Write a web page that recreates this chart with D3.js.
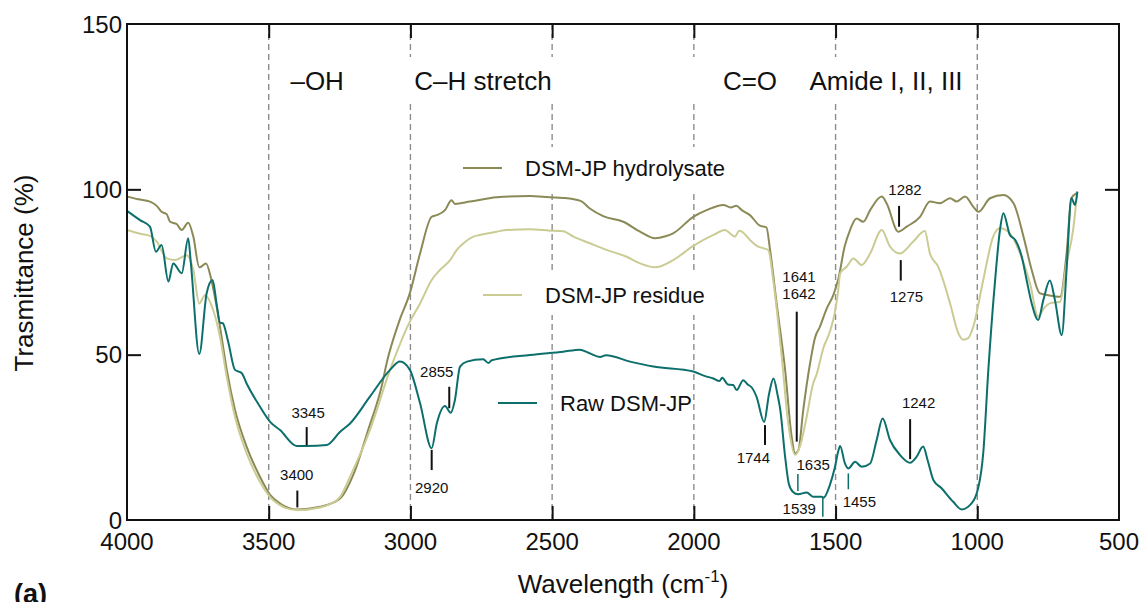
<!DOCTYPE html>
<html>
<head>
<meta charset="utf-8">
<script src="https://cdn.jsdelivr.net/npm/d3@7/dist/d3.min.js"></script>
<style>
  html, body { margin: 0; padding: 0; background: #fff; }
  svg { display: block; }
  text { font-family: "Liberation Sans", Arial, Helvetica, sans-serif; fill: #111; }
</style>
</head>
<body>
<svg id="chart" width="1143" height="602"></svg>
<script>
// ---------------- DATA ----------------
const xTicks = [4000, 3500, 3000, 2500, 2000, 1500, 1000, 500];
const yTicks = [0, 50, 100, 150];
const gridLines = [3500, 3000, 2500, 2000, 1500, 1000];

const seriesNames = ["DSM-JP hydrolysate", "DSM-JP residue", "Raw DSM-JP"];

const hydroWn = [4000,3960,3919,3895,3878,3860,3848,3825,3807,3784,3766,3745,3721,3705,3690,3672,3648,3619,3578,3531,3495,3460,3401,3319,3248,3200,3150,3100,3084,3040,3002,2966,2925,2907,2878,2855,2843,2790,2696,2578,2508,2461,2400,2367,2320,2249,2190,2137,2100,2073,2002,1955,1896,1870,1850,1831,1802,1767,1744,1731,1708,1678,1655,1643,1631,1614,1590,1573,1555,1531,1508,1490,1468,1449,1426,1402,1378,1337,1320,1279,1249,1202,1167,1132,1096,1073,1043,1014,996,955,908,872,837,808,780,750,708,685,668,651];
const hydroT  = [97.8,97.0,96.3,95.0,93.2,92.5,90.2,89.5,87.7,89.9,85.7,76.4,77.6,73.6,67.5,58.5,45.4,33.3,22.2,13.1,7.6,5.0,3.2,4.0,6.5,14,27,41,47.4,60,68.6,80.6,91.7,92.2,93.7,96.7,95.6,96.3,97.6,98.0,97.6,97.4,96.5,94.2,91.9,90.2,87.2,85.2,85.8,86.7,91.7,93.7,95.3,94.5,95.0,93.7,92.2,89.0,88.5,81.6,65.5,45.4,25.2,20.2,21.2,33.3,47.4,55.0,58.5,64.0,68.0,73.0,82.7,87.7,91.2,90.2,93.7,97.8,95.8,87.2,88.7,91.7,96.3,95.8,97.3,96.3,97.8,94.7,93.2,97.3,98.3,95.8,85.7,75.6,68.6,68.0,67.5,80.6,97.3,98.8];

const residueWn = [4000,3950,3919,3895,3860,3831,3789,3766,3745,3725,3696,3672,3648,3619,3578,3531,3484,3401,3319,3284,3248,3213,3143,3072,3002,2966,2925,2896,2860,2837,2813,2778,2755,2696,2660,2578,2508,2461,2425,2367,2308,2237,2190,2137,2073,2002,1931,1890,1870,1855,1840,1831,1802,1773,1755,1737,1720,1690,1667,1643,1626,1602,1580,1567,1543,1520,1502,1490,1484,1461,1437,1408,1378,1337,1308,1273,1226,1185,1167,1138,1096,1067,1050,1032,1014,979,944,920,885,849,814,785,765,744,708,685,662,647];
const residueT  = [87.7,86.5,85.9,84.2,79.1,78.6,80.1,75.6,65.5,68.0,63.5,55.4,43.3,31.2,20.2,11.6,6.0,3.0,3.8,4.8,7.0,13.1,27.2,45.4,60.0,65.5,72.6,75.6,78.6,81.6,83.7,85.7,86.2,87.2,87.7,87.9,87.5,87.3,85.7,83.7,81.7,79.6,77.6,76.4,78.6,82.9,86.2,87.7,86.5,85.7,87.5,87.2,84.7,82.7,82.2,81.6,72.6,49.4,29.2,19.7,22.2,31.2,41.0,44.0,52.0,57.0,63.0,70.0,74.6,76.6,79.1,77.1,80.6,87.7,82.7,80.6,84.2,87.4,80.6,76.6,65.5,56.5,54.5,55.0,58.5,72.6,85.7,88.2,86.7,80.6,71.6,61.5,64.0,65.5,66.0,77.6,87.7,99.3];

const rawWn = [4000,3954,3919,3898,3878,3854,3837,3807,3784,3775,3745,3719,3698,3684,3672,3662,3643,3619,3595,3578,3531,3495,3460,3401,3366,3295,3248,3213,3143,3072,3037,3002,2966,2925,2907,2878,2858,2843,2825,2801,2743,2725,2713,2578,2461,2402,2370,2331,2310,2225,2143,2002,1960,1931,1910,1900,1880,1861,1849,1826,1810,1795,1779,1752,1735,1719,1705,1695,1678,1665,1650,1632,1602,1578,1549,1543,1520,1502,1490,1484,1467,1455,1431,1408,1378,1355,1334,1308,1273,1237,1215,1191,1175,1155,1126,1085,1055,1026,996,979,961,937,920,908,885,866,843,826,808,785,767,744,726,702,685,668,655,647];
const rawT  = [93.5,90.7,88.7,81.1,83.2,72.1,77.6,74.6,85.2,78.0,50.2,68.6,72.6,65.5,59.7,59.5,53.9,45.4,44.4,41.3,34.3,29.7,27.2,22.4,22.4,22.7,26.7,29.2,37.3,45.4,47.9,45.4,35.3,21.7,29.2,34.5,32.4,36.3,46.4,47.9,48.6,47.5,48.3,49.9,50.9,51.5,50.5,49.3,49.8,47.9,46.4,44.9,43.5,42.8,42.0,43.0,41.0,40.8,39.3,42.3,41.0,40.0,37.3,29.7,38.0,42.8,38.0,33.3,19.1,11.0,8.5,7.8,8.3,7.0,7.0,6.7,10.6,16.1,21.0,22.4,17.1,15.6,17.6,16.1,17.1,24.2,30.7,24.2,19.7,17.3,19.0,22.2,18.0,12.1,9.6,5.5,3.2,4.5,10.0,20.2,45.4,72.6,87.7,92.8,86.2,84.7,79.6,72.6,65.5,60.5,66.5,72.4,66.5,55.9,75.6,97.3,95.3,99.3];

// Region headers
const headerLabels = ["\u2013OH", "C\u2013H stretch", "C=O", "Amide I, II, III"];
const headerWn = [3329, 2744, 1802, 1322];

// Peak annotations: label text, tick wavenumber, tick from/to transmittance, label position
const annoText   = ["3345","3400","2855","2920","1744","1641","1642","1635","1539","1455","1242","1282","1275"];
const annoTickWn = [3366, 3399, 2863, 2925, 1749, 1637, null, 1633, 1545, 1455, 1237, 1276, 1270];
const annoTickT1 = [22.6, 3.8, 33.8, 15.1, 22.7, 23.7, null, 8.8, 1.0, 9.3, 18.4, 88.7, 72.4];
const annoTickT2 = [28.1, 8.9, 40.3, 21.2, 28.7, 63.0, null, 13.9, 7.0, 14.1, 30.5, 95.0, 78.6];
const annoLabelWn = [3361, 3401, 2907, 2925, 1790, 1629, 1629, 1579, 1628, 1416, 1207, 1255, 1250];
const annoLabelT  = [30.8, 12.1, 43.3, 8.1, 17.1, 71.9, 66.7, 15.1, 1.8, 4.0, 33.8, 98.3, 66.0];
const annoTeal    = [false,false,false,false,false,false,false,true,true,true,false,false,false];

// ---------------- LAYOUT / STYLE ----------------
const W = 1143, H = 602;
const M = {left: 127, right: 1119, top: 24, bottom: 520};
const colors = ["#8b8a57", "#cbcb94", "#0d6f6c"];
const svg = d3.select("#chart");

const x = d3.scaleLinear().domain([4000, 500]).range([M.left, M.right]);
const y = d3.scaleLinear().domain([0, 150]).range([M.bottom, M.top]);

// Gridlines
svg.append("g").selectAll("line").data(gridLines).join("line")
  .attr("x1", d => x(d)).attr("x2", d => x(d))
  .attr("y1", M.top).attr("y2", M.bottom)
  .attr("stroke", "#8c8c8c").attr("stroke-width", 1.4)
  .attr("stroke-dasharray", "6,4");

// White boxes behind header and legend entries
svg.append("rect").attr("x", x(3450)).attr("y", 57)
  .attr("width", x(1025) - x(3450)).attr("height", 45).attr("fill", "#fff");
svg.append("rect").attr("x", 455).attr("y", 147).attr("width", 290).attr("height", 45).attr("fill", "#fff");
svg.append("rect").attr("x", 475).attr("y", 270).attr("width", 245).attr("height", 45).attr("fill", "#fff");

// Header texts
svg.append("g").selectAll("text").data(headerLabels).join("text")
  .attr("x", (d, i) => x(headerWn[i])).attr("y", 90)
  .attr("text-anchor", "middle").attr("font-size", 26)
  .text(d => d);

// Curves
const seriesData = [
  hydroWn.map((w, i) => [w, hydroT[i]]),
  residueWn.map((w, i) => [w, residueT[i]]),
  rawWn.map((w, i) => [w, rawT[i]])
];
const line = d3.line().x(d => x(d[0])).y(d => y(d[1])).curve(d3.curveMonotoneX);
svg.append("g").selectAll("path").data(seriesData).join("path")
  .attr("d", line).attr("fill", "none")
  .attr("stroke", (d, i) => colors[i]).attr("stroke-width", 2)
  .attr("stroke-linejoin", "round");

// Frame
svg.append("rect").attr("x", M.left).attr("y", M.top)
  .attr("width", M.right - M.left).attr("height", M.bottom - M.top)
  .attr("fill", "none").attr("stroke", "#111").attr("stroke-width", 2);

// Axes (ticks inward)
const tickLen = 14;
const xAxisB = d3.axisBottom(x).tickValues(xTicks).tickSize(tickLen).tickSizeOuter(0).tickPadding(-tickLen + 10);
const gxb = svg.append("g").attr("transform", `translate(0,${M.bottom})`).call(d3.axisTop(x).tickValues(xTicks.slice(1, -1)).tickSize(tickLen).tickFormat(""));
gxb.select(".domain").remove();
gxb.selectAll("line").attr("stroke", "#111").attr("stroke-width", 2);
const gxt = svg.append("g").attr("transform", `translate(0,${M.top})`).call(d3.axisBottom(x).tickValues(xTicks.slice(1, -1)).tickSize(tickLen).tickFormat(""));
gxt.select(".domain").remove();
gxt.selectAll("line").attr("stroke", "#111").attr("stroke-width", 2);

const gyl = svg.append("g").attr("transform", `translate(${M.left},0)`).call(d3.axisRight(y).tickValues(yTicks.slice(1, -1)).tickSize(tickLen).tickFormat(""));
gyl.select(".domain").remove();
gyl.selectAll("line").attr("stroke", "#111").attr("stroke-width", 2);
const gyr = svg.append("g").attr("transform", `translate(${M.right},0)`).call(d3.axisLeft(y).tickValues(yTicks.slice(1, -1)).tickSize(tickLen).tickFormat(""));
gyr.select(".domain").remove();
gyr.selectAll("line").attr("stroke", "#111").attr("stroke-width", 2);

// Tick labels
svg.append("g").selectAll("text").data(xTicks).join("text")
  .attr("x", d => x(d)).attr("y", 550).attr("text-anchor", "middle")
  .attr("font-size", 24).text(d => d);
svg.append("g").selectAll("text").data(yTicks).join("text")
  .attr("x", 122).attr("y", d => y(d) + 8.5).attr("text-anchor", "end")
  .attr("font-size", 24).text(d => d);

// Axis titles
const xt = svg.append("text").attr("x", 623).attr("y", 593).attr("text-anchor", "middle").attr("font-size", 26);
xt.append("tspan").text("Wavelength (cm");
xt.append("tspan").attr("dy", -11).attr("font-size", 17).text("-1");
xt.append("tspan").attr("dy", 11).text(")");
svg.append("text").attr("transform", "translate(33,273) rotate(-90)")
  .attr("text-anchor", "middle").attr("font-size", 26).text("Trasmittance (%)");

// Panel label
svg.append("text").attr("x", 14).attr("y", 603).attr("font-size", 27).attr("font-weight", "bold").text("(a)");

// Annotations
const ag = svg.append("g");
annoText.forEach((t, i) => {
  if (annoTickWn[i] !== null) {
    ag.append("line")
      .attr("x1", x(annoTickWn[i])).attr("x2", x(annoTickWn[i]))
      .attr("y1", y(annoTickT1[i])).attr("y2", y(annoTickT2[i]))
      .attr("stroke", annoTeal[i] ? colors[2] : "#111")
      .attr("stroke-width", annoTeal[i] ? 1.5 : 2);
  }
  ag.append("text").attr("x", x(annoLabelWn[i])).attr("y", y(annoLabelT[i]))
    .attr("text-anchor", "middle").attr("font-size", 15).text(t);
});

// Legend
const legendLineX = [463, 483, 498];
const legendY = [168, 295, 403];
const lg = svg.append("g");
seriesNames.forEach((n, i) => {
  lg.append("line").attr("x1", legendLineX[i]).attr("x2", legendLineX[i] + 39)
    .attr("y1", legendY[i]).attr("y2", legendY[i])
    .attr("stroke", colors[i]).attr("stroke-width", 2);
  lg.append("text").attr("x", legendLineX[i] + 62).attr("y", legendY[i] + 8)
    .attr("font-size", 22).text(n);
});
</script>
</body>
</html>
